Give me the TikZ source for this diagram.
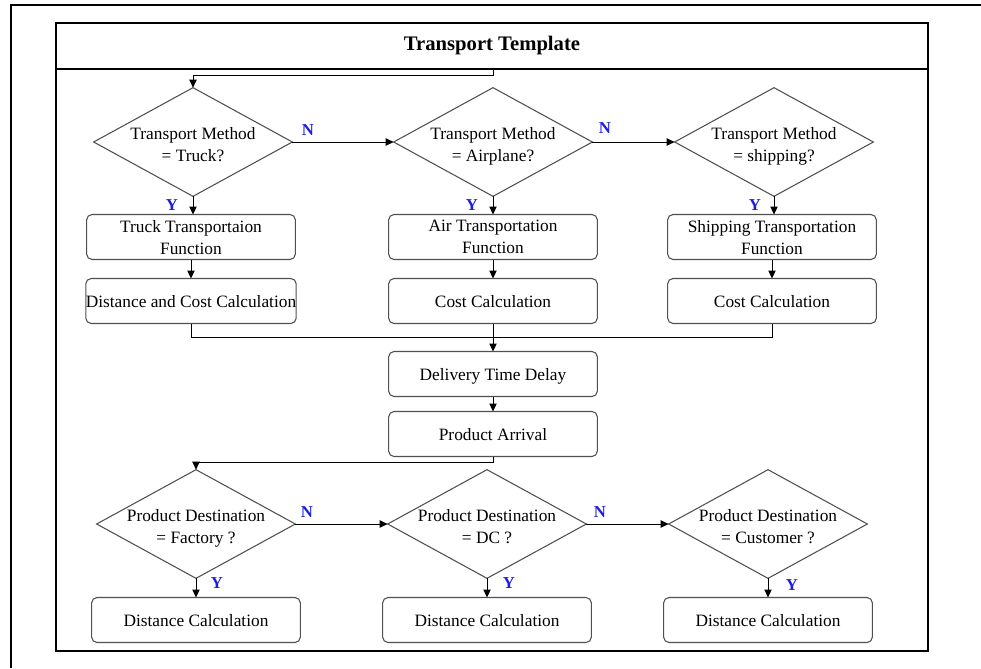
\documentclass[tikz,border=0pt]{standalone}
\usepackage{fontspec}
\setmainfont{Liberation Serif}
\usetikzlibrary{shapes.geometric,arrows.meta}

\definecolor{shapegray}{RGB}{80,80,80}
\definecolor{ynblue}{RGB}{30,30,225}
% two-line text that does not widen the diamond
\newcommand{\dtext}[1]{\makebox[0pt]{\smash{\raisebox{-6pt}{\begin{tabular}{@{}c@{}}#1\end{tabular}}}}}

\begin{document}
\begin{tikzpicture}[x=0.75pt,y=0.75pt,yscale=-1,xscale=1,
  decision/.style={diamond,draw=shapegray,line width=0.8pt,inner sep=0pt,outer sep=0pt,
    minimum width=149pt,minimum height=81.5pt,font=\fontsize{13}{16.5}\selectfont},
  proc/.style={rectangle,rounded corners=4pt,draw=shapegray,line width=0.8pt,inner sep=0pt,outer sep=0pt,
    minimum width=156.5pt,minimum height=33.75pt,text depth=-1pt,align=center,font=\fontsize{13}{16.5}\selectfont},
  yn/.style={text=ynblue,inner sep=0pt,font=\bfseries\fontsize{12.5}{12.5}\selectfont},
  flow/.style={-{Triangle[length=6pt,width=5.5pt]},line width=0.75pt}]
\useasboundingbox (0,0) rectangle (981,668);

%Shape: Frame
\draw [line width=1.6pt] (11,668) -- (11,5) -- (981,5) ;
%Shape: Rectangle
\draw [line width=1pt] (56,23) rectangle (928,651) ;
%Straight Lines
\draw [line width=0.9pt] (56,69) -- (928,69) ;

% Text Node
\node [font=\bfseries\fontsize{15.5}{15.5}\selectfont] (title) at (492,46) {Transport Template};
\coordinate (start) at (493,69);

%Shape: Diamond
\node [decision] (truck) at (193,142) {\dtext{Transport Method\\= Truck?}};
\node [decision] (air) at (493,142) {\dtext{Transport Method\\= Airplane?}};
\node [decision] (ship) at (774,142) {\dtext{Transport Method\\= shipping?}};

%Shape: Rectangle
\node [proc] (truckfn) at (191,237) {Truck Transportaion\\Function};
\node [proc] (truckcost) at (191,301) {Distance and Cost Calculation};
\node [proc] (airfn) at (493,237) {Air Transportation\\Function};
\node [proc] (aircost) at (493,301) {Cost Calculation};
\node [proc] (shipfn) at (772,237) {Shipping Transportation\\Function};
\node [proc] (shipcost) at (772,301) {Cost Calculation};
\node [proc] (delay) at (493,374) {Delivery Time Delay};
\node [proc] (arrival) at (493,434) {Product Arrival};

%Shape: Diamond
\node [decision] (factory) at (196,524) {\dtext{Product Destination\\= Factory ?}};
\node [decision] (dc) at (487,524) {\dtext{Product Destination\\= DC ?}};
\node [decision] (customer) at (768,524) {\dtext{Product Destination\\= Customer ?}};

%Shape: Rectangle
\node [proc] (factorydist) at (196,620) {Distance Calculation};
\node [proc] (dcdist) at (487,620) {Distance Calculation};
\node [proc] (customerdist) at (768,620) {Distance Calculation};

%Straight Lines
\draw [flow] (start) -- ++(0,6) -| (truck.north) ;
\draw [flow] (truck.east) -- (air.west) ;
\draw [flow] (air.east) -- (ship.west) ;
\draw [flow] (truck.south) -- (truck.south |- truckfn.north) ;
\draw [flow] (air.south) -- (air.south |- airfn.north) ;
\draw [flow] (ship.south) -- (ship.south |- shipfn.north) ;
\draw [flow] (truckfn.south) -- (truckcost.north) ;
\draw [flow] (airfn.south) -- (aircost.north) ;
\draw [flow] (shipfn.south) -- (shipcost.north) ;
\draw [line width=0.75pt] (truckcost.south) -- ++(0,14) -| (shipcost.south) ;
\draw [flow] (aircost.south) -- (delay.north) ;
\draw [flow] (delay.south) -- (arrival.north) ;
\draw [flow] (arrival.south) -- ++(0,6) -| (factory.north) ;
\draw [flow] (factory.east) -- (dc.west) ;
\draw [flow] (dc.east) -- (customer.west) ;
\draw [flow] (factory.south) -- (factorydist.north) ;
\draw [flow] (dc.south) -- (dcdist.north) ;
\draw [flow] (customer.south) -- (customerdist.north) ;

% Text Node
\node [yn] (n1) at (308,130) {N};
\node [yn] (n2) at (605,128) {N};
\node [yn] (y1) at (172,205) {Y};
\node [yn] (y2) at (472,205) {Y};
\node [yn] (y3) at (755,205) {Y};
\node [yn] (n3) at (307,512) {N};
\node [yn] (n4) at (600,512) {N};
\node [yn] (y4) at (217,583) {Y};
\node [yn] (y5) at (509,583) {Y};
\node [yn] (y6) at (792,585) {Y};

\end{tikzpicture}
\end{document}
